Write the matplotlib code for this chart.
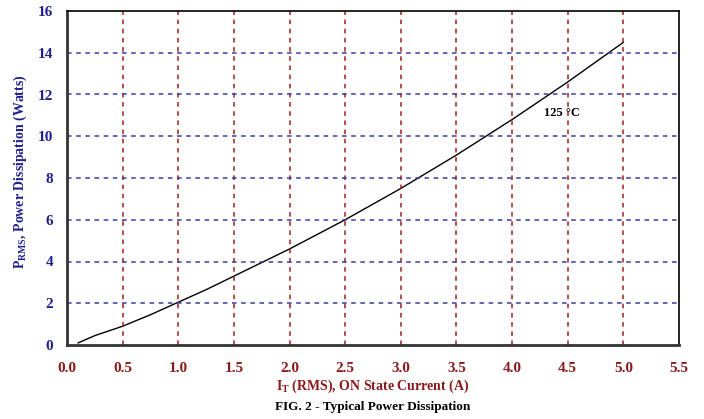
import matplotlib
matplotlib.use("Agg")
import matplotlib.pyplot as plt

# on-state current (A) vs power dissipation (W) at 125 C
current = [0.1, 0.25, 0.5, 0.75, 1.0, 1.25, 1.5, 1.75, 2.0, 2.25, 2.5, 2.75, 3.0,
           3.25, 3.5, 3.75, 4.0, 4.25, 4.5, 4.75, 5.0]
power = [0.1, 0.45, 0.9, 1.45, 2.05, 2.65, 3.3, 3.95, 4.6, 5.3, 6.0, 6.75, 7.5,
         8.3, 9.1, 9.95, 10.8, 11.7, 12.6, 13.55, 14.5]

x_ticks = [0.0, 0.5, 1.0, 1.5, 2.0, 2.5, 3.0, 3.5, 4.0, 4.5, 5.0, 5.5]
y_ticks = [0, 2, 4, 6, 8, 10, 12, 14, 16]

blue = "#1f1f8f"
red = "#8b1a1a"

plt.rcParams['font.family'] = 'Liberation Serif'
plt.rcParams['font.weight'] = 'bold'
plt.rcParams['mathtext.fontset'] = 'custom'
plt.rcParams['mathtext.rm'] = 'Liberation Serif:bold'

fig = plt.figure(figsize=(7.04, 4.19), dpi=100)
ax = fig.add_axes([67 / 704, 1 - 345 / 419, 612 / 704, 334 / 419])

ax.plot(current, power, color="black", lw=1.0)

ax.set_xlim(0, 5.5)
ax.set_ylim(0, 16)
ax.set_xticks(x_ticks)
ax.set_yticks(y_ticks)
ax.set_xticklabels([f"{v:.1f}" for v in x_ticks], color=red, fontsize=11, fontweight='bold')
ax.set_yticklabels([str(v) for v in y_ticks], color=blue, fontsize=11, fontweight='bold')
ax.tick_params(axis='x', length=0, pad=12)
ax.tick_params(axis='y', length=0, pad=10)

# dashed grid: red verticals, blue horizontals
for xv in x_ticks[1:-1]:
    ax.axvline(xv, color="#a01e1e", ls=(0, (3, 3)), lw=1.1)
for yv in y_ticks[1:-1]:
    ax.axhline(yv, color="#3a3aa0", ls=(0, (3, 3)), lw=1.1)

for side in ["left", "bottom"]:
    ax.spines[side].set_linewidth(2.0)
    ax.spines[side].set_color("#333333")
for side in ["top", "right"]:
    ax.spines[side].set_linewidth(1.2)
    ax.spines[side].set_color("black")

ax.text(4.45, 11.1, "125 °C", fontsize=9, fontweight='bold', ha='center', va='center')

fig.text(20 / 704, 1 - 172 / 419, r"P$_{\rm RMS}$, Power Dissipation (Watts)",
         rotation=90, color=blue, fontsize=10, ha='center', va='center')
fig.text(373 / 704, 1 - 386 / 419, r"I$_{\rm T}$ (RMS), ON State Current (A)",
         color=red, fontsize=10, ha='center', va='center')
fig.text(373 / 704, 1 - 407 / 419, "FIG. 2 - Typical Power Dissipation",
         color="black", fontsize=9.5, ha='center', va='center')

fig.savefig("out.png", dpi=100)
